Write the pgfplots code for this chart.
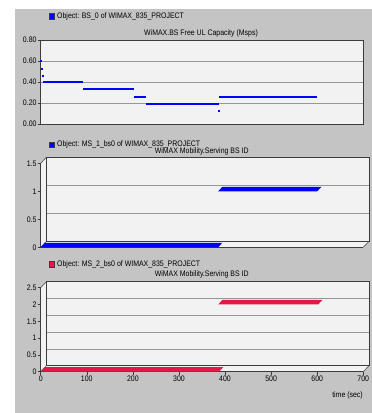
\documentclass[border=0pt]{standalone}
\usepackage{fontspec}
\setmainfont{Liberation Sans}[FakeStretch=0.87]
\usepackage{pgfplots}
\pgfplotsset{compat=1.18}
\definecolor{panel}{RGB}{196,196,196}
\definecolor{plotbg}{RGB}{242,242,242}
\definecolor{gridc}{RGB}{150,150,150}
\definecolor{frame}{RGB}{60,60,60}
\definecolor{obblue}{RGB}{0,0,255}
\definecolor{obred}{RGB}{228,24,70}
\newcommand\fnt{\fontsize{8}{9}\selectfont}
\pgfplotsset{base/.style={anchor=south west, scale only axis, width=322.6pt, height=84pt,
  xmin=0, xmax=700, ymin=0, tick align=outside, major tick length=3pt,
  tick style={frame, line width=0.4pt}, ticklabel style={font=\fnt, inner sep=1pt},
  /pgf/number format/assume math mode=true,
  axis line style={-, frame, line width=0.5pt}, grid style={gridc, line width=0.5pt}}}
\begin{document}
\begin{tikzpicture}
\begin{scope}[x=1pt,y=1pt]
\fill[white] (0,0) rectangle (372,413);
\fill[panel] (15,0) rectangle (372,404);
% top
\fill[obblue, draw=frame, line width=0.3pt] (49,394) rectangle (54,400);
\node[anchor=west, font=\fnt, inner sep=0] at (57,397) {Object: BS\_0 of WIMAX\_835\_PROJECT};
\node[font=\fnt, inner sep=0] at (201,379.5) {WiMAX.BS Free UL Capacity (Msps)};
% middle
\fill[obblue, draw=frame, line width=0.3pt] (49,265.5) rectangle (54,271.1);
\node[anchor=west, font=\fnt, inner sep=0] at (57,268.3) {Object: MS\_1\_bs0 of WIMAX\_835\_PROJECT};
\node[font=\fnt, inner sep=0] at (201.7,261.4) {WiMAX Mobility.Serving BS ID};
\fill[plotbg] (40.7,165.7) -- (40.7,249.7) -- (46.4,255.7) -- (369,255.7) -- (369,171.7) -- (363.3,165.7) -- cycle;
% bottom
\fill[obred, draw=frame, line width=0.3pt] (49,146) rectangle (54,151.6);
\node[anchor=west, font=\fnt, inner sep=0] at (57,148.8) {Object: MS\_2\_bs0 of WIMAX\_835\_PROJECT};
\node[font=\fnt, inner sep=0] at (201.7,138.5) {WiMAX Mobility.Serving BS ID};
\fill[plotbg] (40.7,41.3) -- (40.7,125.3) -- (46.4,131.3) -- (369,131.3) -- (369,47.3) -- (363.3,41.3) -- cycle;
\node[anchor=east, font=\fnt, inner sep=0] at (363,17.3) {time (sec)};
\end{scope}
% ---------- top ----------
\begin{axis}[base, at={(40.7pt,289pt)}, ymax=0.8, axis background/.style={fill=plotbg},
  xtick=\empty, ytick={0,0.2,0.4,0.6,0.8}, yticklabels={0.00,0.20,0.40,0.60,0.80},
  ytick pos=left, ymajorgrids, clip=false]
\addplot[obblue, line width=2pt] coordinates {(4.3,0.40) (92.4,0.40)};
\addplot[obblue, line width=2pt] coordinates {(92.4,0.33) (202.4,0.33)};
\addplot[obblue, line width=2pt] coordinates {(202.4,0.26) (228.5,0.26)};
\addplot[obblue, line width=2pt] coordinates {(228.5,0.19) (386,0.19)};
\addplot[obblue, line width=2pt] coordinates {(386,0.26) (600,0.26)};
\addplot[only marks, mark=square*, mark size=0.6pt, obblue] coordinates {(0.5,0.60) (1.5,0.53) (3.5,0.46) (385.4,0.124)};
\end{axis}
% ---------- middle ----------
\begin{axis}[base, at={(46.4pt,171.7pt)}, ymax=1.5, xtick=\empty, ytick={0.5,1}, yticklabels={},
  major tick length=0pt, ymajorgrids]
\end{axis}
\begin{scope}[x=1pt,y=1pt]
\draw[frame, line width=0.5pt] (40.7,249.7)--(46.4,255.7) (40.7,165.7)--(46.4,171.7) (363.3,165.7)--(369,171.7);
\end{scope}
\begin{axis}[base, at={(40.7pt,165.7pt)}, ymax=1.5, axis x line*=bottom, axis y line*=left,
  xtick=\empty, ytick={0,0.5,1,1.5}, yticklabels={0,0.5,1,1.5}, clip=false]
\addplot[fill=obblue, draw=none] coordinates {(0,0) (385,0) (394,0.079) (9,0.079) (0,0)};
\addplot[fill=obblue, draw=none] coordinates {(385,1) (600,1) (609,1.079) (394,1.079) (385,1)};
\end{axis}
% ---------- bottom ----------
\begin{axis}[base, at={(46.4pt,47.3pt)}, ymax=2.5, xtick=\empty, ytick={0.5,1,1.5,2}, yticklabels={},
  major tick length=0pt, ymajorgrids]
\end{axis}
\begin{scope}[x=1pt,y=1pt]
\draw[frame, line width=0.5pt] (40.7,125.3)--(46.4,131.3) (40.7,41.3)--(46.4,47.3) (363.3,41.3)--(369,47.3);
\end{scope}
\begin{axis}[base, at={(40.7pt,41.3pt)}, ymax=2.5, axis x line*=bottom, axis y line*=left,
  xtick={0,100,200,300,400,500,600,700}, xticklabels={0,100,200,300,400,500,600,700},
  ytick={0,0.5,1,1.5,2,2.5}, yticklabels={0,0.5,1,1.5,2,2.5}, clip=false]
\addplot[fill=obred, draw=none] coordinates {(0,0) (387,0) (396,0.134) (9,0.134) (0,0)};
\addplot[fill=obred, draw=none] coordinates {(385,2) (602,2) (611,2.134) (394,2.134) (385,2)};
\end{axis}
\end{tikzpicture}
\end{document}
